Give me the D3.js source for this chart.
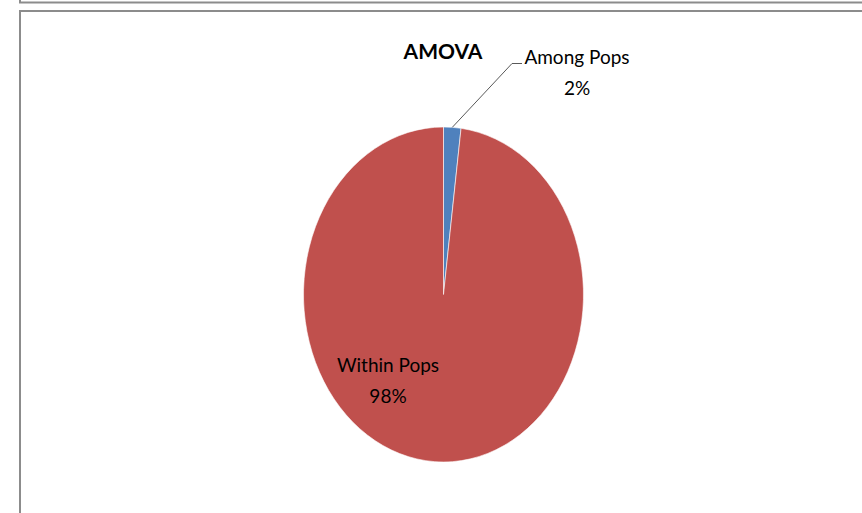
<!DOCTYPE html>
<html>
<head>
<meta charset="utf-8">
<script src="https://cdn.jsdelivr.net/npm/d3@7"></script>
<style>
  body { margin: 0; background: #fff; }
  text { font-family: Lato, "Open Sans", sans-serif; fill: #000; }
</style>
</head>
<body>
<script>
const categories = ["Among Pops", "Within Pops"];
const values = [2, 98];
const colors = ["#4F81BD", "#C0504D"];
const title = "AMOVA";

const W = 862, H = 513;
const cx = 443.5, cy = 294.5, rx = 140, ry = 167.5;

const svg = d3.select("body").append("svg")
  .attr("width", W)
  .attr("height", H);

// frame lines of the surrounding boxes
svg.append("path")
  .attr("d", `M20,0 V2.5 H${W}`)
  .attr("fill", "none")
  .attr("stroke", "#8c8c8c")
  .attr("stroke-width", 2);
svg.append("path")
  .attr("d", `M20,${H} V11 H${W}`)
  .attr("fill", "none")
  .attr("stroke", "#8c8c8c")
  .attr("stroke-width", 2);

const data = categories.map((c, i) => ({name: c, value: values[i], color: colors[i]}));

const pie = d3.pie()
  .sort(null)
  .value(d => d.value);
const arcs = pie(data);

const arc = d3.arc()
  .innerRadius(0)
  .outerRadius(rx);

// the pie is stretched vertically, like in the original
const g = svg.append("g")
  .attr("transform", `translate(${cx},${cy}) scale(1,${ry / rx})`);

g.selectAll("path")
  .data(arcs)
  .join("path")
  .attr("d", arc)
  .attr("fill", d => d.data.color)
  .attr("stroke", "#ffffff")
  .attr("stroke-width", 0.6)
  .attr("vector-effect", "non-scaling-stroke");

// title
svg.append("text")
  .attr("x", 443)
  .attr("y", 58.5)
  .attr("text-anchor", "middle")
  .style("font-weight", "bold")
  .style("font-size", "21px")
  .text(title);

// leader line for the small slice
const a0 = arcs[0];
const mid = (a0.startAngle + a0.endAngle) / 2;
const px = cx + rx * Math.sin(mid), py = cy - ry * Math.cos(mid);
svg.append("path")
  .attr("d", `M${px},${py} L512,63.5 H522`)
  .attr("fill", "none")
  .attr("stroke", "#595959")
  .attr("stroke-width", 1);

// data labels
const labels = [
  {x: 577, y: 64, y2: 95},
  {x: 388, y: 372, y2: 403}
];
const fmt = v => Math.round(v) + "%";
labels.forEach((l, i) => {
  const t = svg.append("text")
    .attr("text-anchor", "middle")
    .style("font-size", "19px");
  t.append("tspan").attr("x", l.x).attr("y", l.y).text(categories[i]);
  t.append("tspan").attr("x", l.x).attr("y", l.y2).text(fmt(values[i]));
});
</script>
</body>
</html>
